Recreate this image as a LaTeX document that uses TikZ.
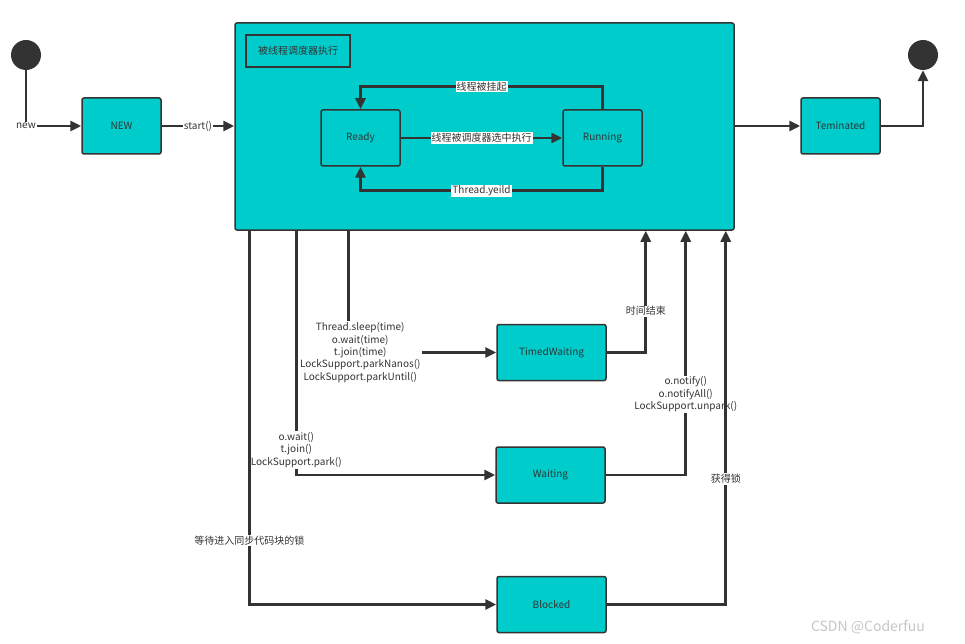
\documentclass[tikz,border=0pt]{standalone}
\usepackage{fontspec}
\setmainfont{Noto Sans CJK SC}
\usetikzlibrary{arrows.meta}
\definecolor{boxfill}{HTML}{00CCCC}
\definecolor{linegray}{HTML}{333333}
\definecolor{textgray}{HTML}{333333}
\begin{document}
\begin{tikzpicture}[x=1pt, y=-1pt,
    state/.style = {draw=linegray, fill=boxfill, line width=1.5pt, rounded corners=2pt,
      minimum width=79pt, minimum height=56pt, text=textgray, font=\fontsize{10}{12}\selectfont},
    dot/.style = {circle, fill=linegray, minimum size=30pt, inner sep=0pt},
    flow/.style = {draw=linegray, line width=2.8pt, -{Triangle[length=11pt,width=10pt]}},
    lbl/.style = {fill=white, inner sep=1pt, align=center, text=textgray,
      font=\fontsize{10}{12.4}\selectfont}]
    \useasboundingbox (0,0) rectangle (965,644);

    % states
    \node[dot] (init) at (26,55) {};
    \node[state] (new) at (121.5,126) {NEW};
    \node[state, minimum width=499pt, minimum height=207pt] (sched) at (484.5,126.5) {};
    \node[draw=linegray, line width=1.5pt, minimum width=104pt, minimum height=32pt,
      text=textgray, font=\fontsize{10}{12}\selectfont] (title) at (298,51) {被线程调度器执行};
    \node[state] (ready) at (360.5,138) {Ready};
    \node[state] (run) at (602.5,138) {Running};
    \node[state] (term) at (840.5,126) {Teminated};
    \node[dot] (fin) at (923,55) {};
    \node[state, minimum width=109pt] (timed) at (551.5,352.5) {TimedWaiting};
    \node[state, minimum width=109pt] (wait) at (550.5,475) {Waiting};
    \node[state, minimum width=109pt] (block) at (551.5,604.5) {Blocked};

    % top row
    \draw[flow] (init) |- (new) node[lbl, pos=0.5] {new};
    \draw[flow] (new) -- (sched.west |- new) node[lbl, midway] {start()};
    \draw[flow] (sched.east |- term) -- (term);
    \draw[flow] (term) -| (fin);

    % inside the scheduler
    \draw[flow] (run.north) -- ++(0,-23) -| (ready.north) node[lbl, pos=0.25] {线程被挂起};
    \draw[flow] (ready) -- (run) node[lbl, midway] {线程被调度器选中执行};
    \draw[flow] (run.south) -- ++(0,24) -| (ready.south) node[lbl, pos=0.25] {Thread.yeild};

    % going down
    \draw[flow] ([xshift=62pt]sched.south west) |- (wait)
      node[lbl, pos=0.5, anchor=south, yshift=5pt] {o.wait()\\t.join()\\LockSupport.park()};
    \draw[flow] ([xshift=15pt]sched.south west) |- (block)
      node[lbl, pos=0.414] {等待进入同步代码块的锁};
    \draw[flow] ([xshift=114pt]sched.south west) |- (timed)
      node[lbl, pos=0.5, xshift=12pt] {Thread.sleep(time)\\o.wait(time)\\t.join(time)\\LockSupport.parkNanos()\\LockSupport.parkUntil()};

    % coming back
    \draw[flow] (timed) -| ([xshift=-89pt]sched.south east) node[lbl, pos=0.67] {时间结束};
    \draw[flow] (wait) -| ([xshift=-49pt]sched.south east)
      node[lbl, pos=0.665] {o.notify()\\o.notifyAll()\\LockSupport.unpark()};
    \draw[flow] (block) -| ([xshift=-9pt]sched.south east) node[lbl, pos=0.668] {获得锁};

    \node[text=gray!45, font=\fontsize{14}{16}\selectfont] (mark) at (868,627) {CSDN @Coderfuu};
\end{tikzpicture}
\end{document}
